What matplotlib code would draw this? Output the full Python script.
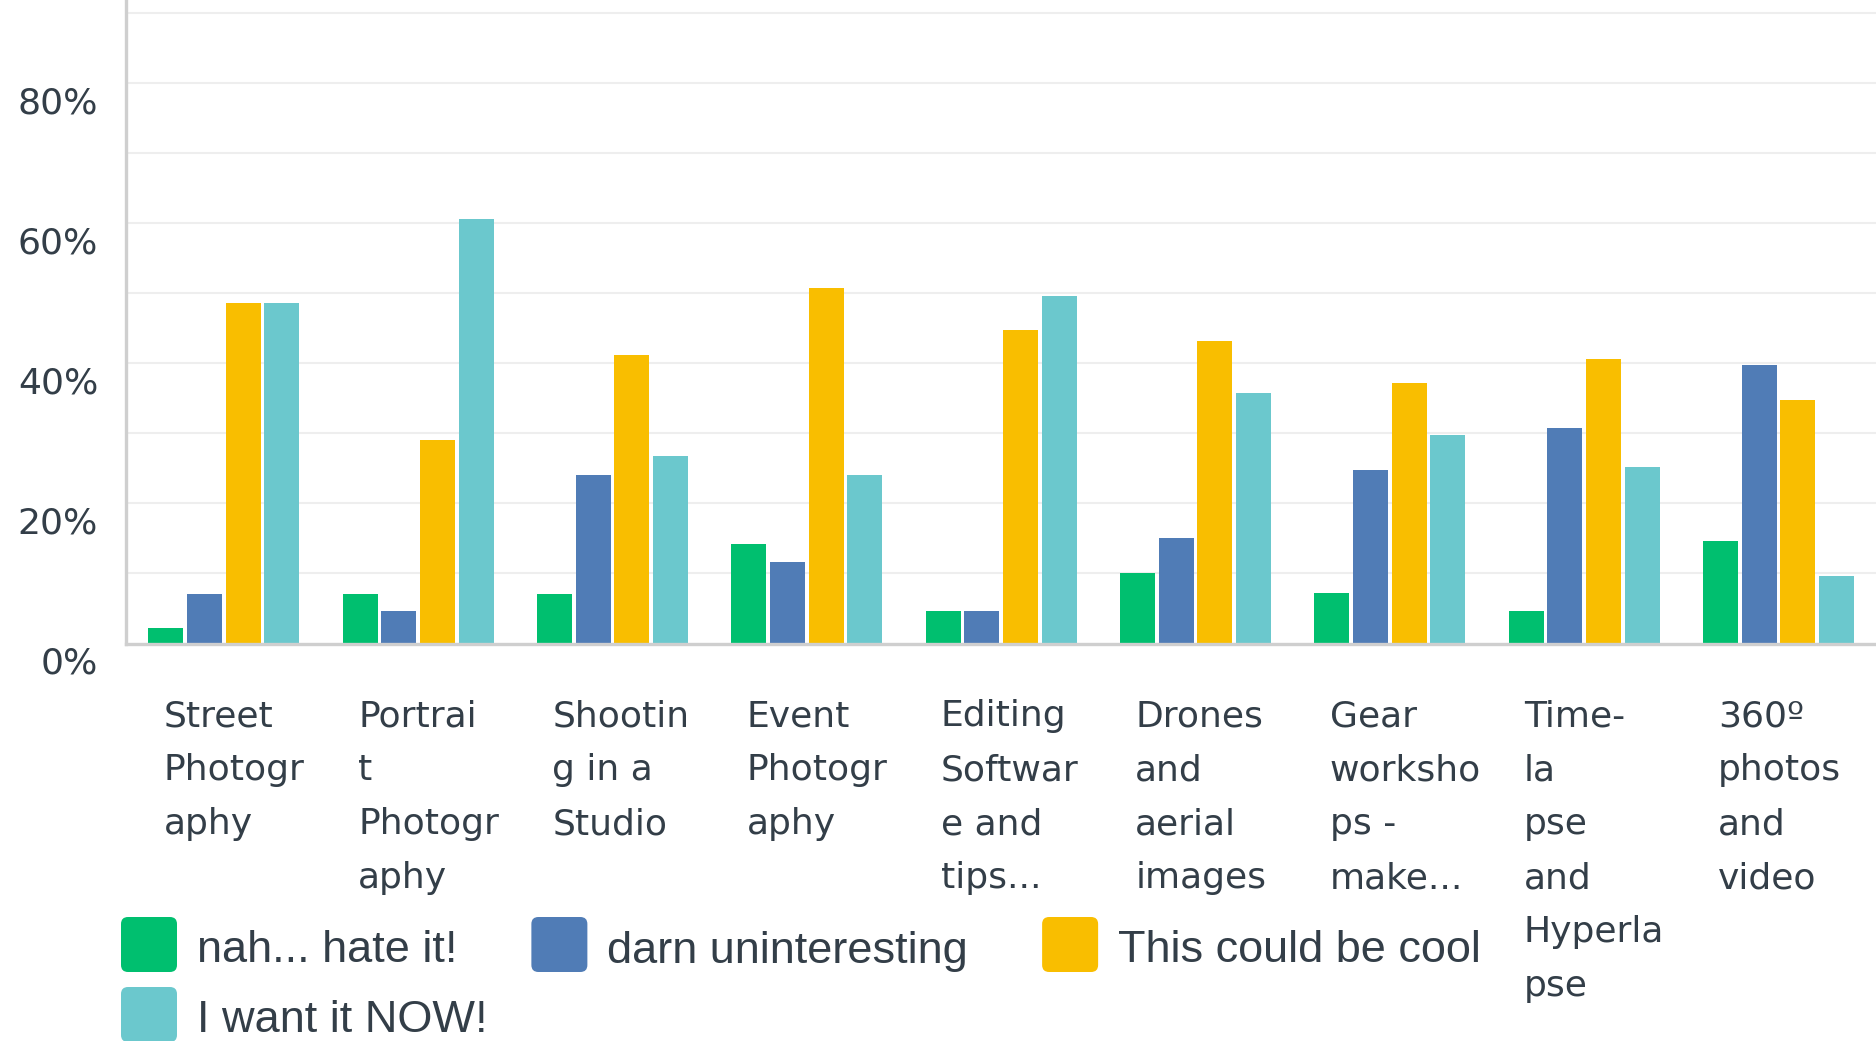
import matplotlib
matplotlib.use("Agg")
import matplotlib.pyplot as plt
from matplotlib import font_manager
from matplotlib.patches import FancyBboxPatch
from matplotlib.transforms import IdentityTransform, ScaledTranslation, blended_transform_factory
from matplotlib.ticker import MultipleLocator, PercentFormatter

# categories (wrapped the same way as the survey export)
categories = [
    "Street\nPhotogr\naphy",
    "Portrai\nt\nPhotogr\naphy",
    "Shootin\ng in a\nStudio",
    "Event\nPhotogr\naphy",
    "Editing\nSoftwar\ne and\ntips...",
    "Drones\nand\naerial\nimages",
    "Gear\nworksho\nps -\nmake...",
    "Time-\nla\npse\nand\nHyperla\npse",
    "360º\nphotos\nand\nvideo",
]
series = ["nah... hate it!", "darn uninteresting", "This could be cool", "I want it NOW!"]
colors = ["#00bf6f", "#507cb6", "#f9be00", "#6bc8cd"]

nah = [2.2, 7.1, 7.1, 14.2, 4.6, 10.1, 7.2, 4.6, 14.6]
darn = [7.1, 4.6, 24.1, 11.6, 4.6, 15.1, 24.7, 30.7, 39.7]
cool = [48.6, 29.1, 41.1, 50.7, 44.7, 43.1, 37.1, 40.6, 34.7]
now = [48.6, 60.6, 26.7, 24.1, 49.6, 35.7, 29.7, 25.2, 9.6]
values = [nah, darn, cool, now]

text_color = "#333e48"
W, H = 1876, 1041

fig = plt.figure(figsize=(W / 100, H / 100), dpi=100)
ax = fig.add_axes([126 / W, 1 - 643.5 / H, 1 - 126 / W, 643.5 / H])

x = list(range(len(categories)))
step, width = 0.199, 0.18
for k, (vals, c) in enumerate(zip(values, colors)):
    pos = [i + (k - 1.5) * step for i in x]
    ax.bar(pos, vals, width=width, color=c, zorder=2)

ax.set_xlim(-0.504, 8.502)
ax.set_ylim(0, 91.8)
ax.yaxis.set_major_locator(MultipleLocator(20))
ax.yaxis.set_minor_locator(MultipleLocator(10))
ax.yaxis.set_major_formatter(PercentFormatter(decimals=0))
ax.grid(axis="y", which="both", color="#eeeeee", lw=1.5, zorder=0)
ax.set_axisbelow(True)
ax.set_xticks([])
ax.tick_params(axis="y", which="both", length=0, pad=20, labelsize=26, labelcolor=text_color)
for lab in ax.get_yticklabels():
    lab.set_transform(lab.get_transform() + ScaledTranslation(0, -17 / 100, fig.dpi_scale_trans))

for side in ["top", "right"]:
    ax.spines[side].set_visible(False)
for side in ["left", "bottom"]:
    ax.spines[side].set_color("#cfcfcf")
    ax.spines[side].set_linewidth(2.4)

# category labels, left aligned under each group
trans = blended_transform_factory(ax.transData, ax.transAxes)
for i, name in enumerate(categories):
    ax.text(i - 0.31, -0.087, name, transform=trans, ha="left", va="top",
            fontsize=26, color=text_color, linespacing=1.74)

# legend as a flowing row of rounded swatches
try:
    font_manager.findfont("Liberation Sans Narrow", fallback_to_default=False)
    leg_font, leg_size = "Liberation Sans Narrow", 40
except ValueError:
    leg_font, leg_size = "Liberation Sans", 32.5

renderer = fig.canvas.get_renderer()
lx, row_c = 121, 944.5
for name, c in zip(series, colors):
    t = fig.text(0, 0, name, transform=IdentityTransform(), fontsize=leg_size,
                 family=leg_font, color=text_color, va="baseline", ha="left")
    tw = t.get_window_extent(renderer).width
    if lx + 56 + 20 + tw > W and lx > 121:
        lx, row_c = 121, row_c + 70
    t.set_position((lx + 76, H - (row_c + 18)))
    sq = FancyBboxPatch((lx, H - row_c - 27.5), 56, 55, boxstyle="round,pad=0,rounding_size=7",
                        transform=IdentityTransform(), facecolor=c, edgecolor="none")
    fig.patches.append(sq)
    lx += 76 + tw + 74

fig.savefig("out.png", dpi=100)
